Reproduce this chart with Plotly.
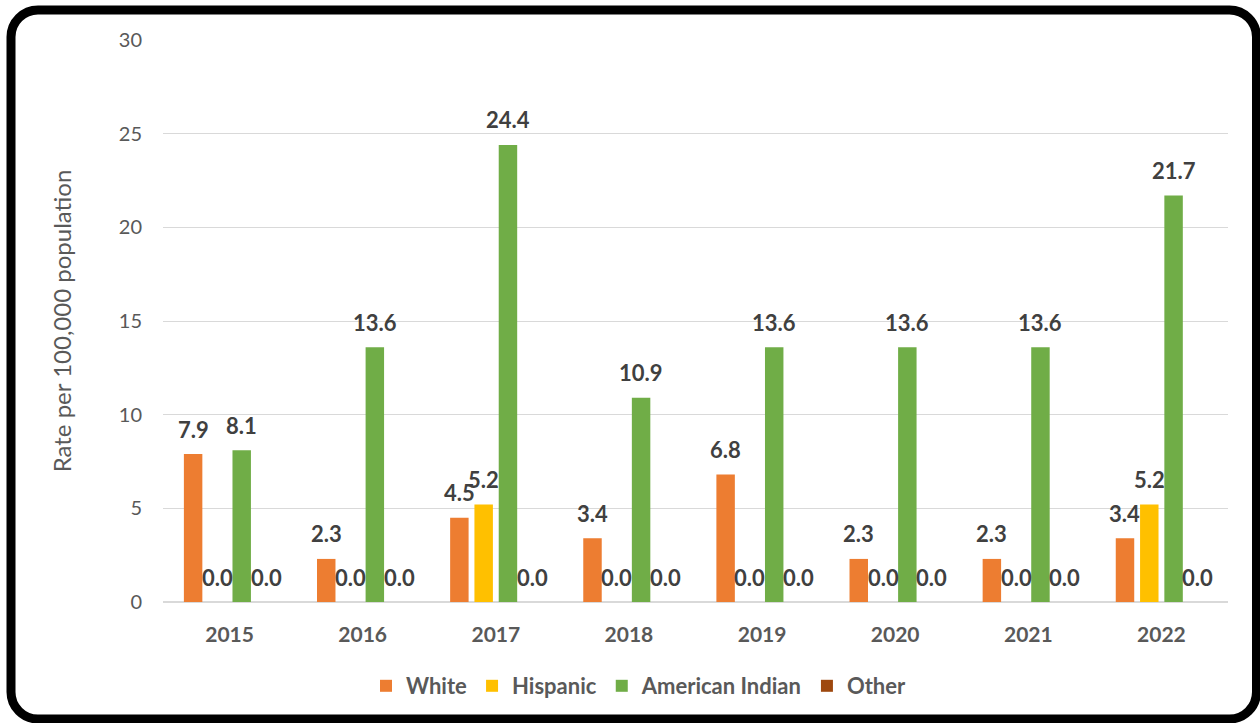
import plotly.graph_objects as go

# Rate per 100,000 population by race, 2015-2022
years = ["2015", "2016", "2017", "2018", "2019", "2020", "2021", "2022"]
white = [7.9, 2.3, 4.5, 3.4, 6.8, 2.3, 2.3, 3.4]
hispanic = [0.0, 0.0, 5.2, 0.0, 0.0, 0.0, 0.0, 5.2]
american_indian = [8.1, 13.6, 24.4, 10.9, 13.6, 13.6, 13.6, 21.7]
other = [0.0, 0.0, 0.0, 0.0, 0.0, 0.0, 0.0, 0.0]

series_names = ["White", "Hispanic", "American Indian", "Other"]
series_values = [white, hispanic, american_indian, other]
series_colors = ["#ED7D31", "#FFC000", "#70AD47", "#9E480E"]

W, H = 1260, 723
ML, MR, MT, MB = 163, 32, 40, 121
PW, PH = W - ML - MR, H - MT - MB
FONT = "Lato"


def px_x(px):
    return (px - ML) / PW


def px_y(py):
    return (H - MB - py) / PH


fig = go.Figure()
for name, vals, col in zip(series_names, series_values, series_colors):
    fig.add_trace(go.Bar(
        name=name, x=years, y=vals,
        marker=dict(color=col, line=dict(width=0)),
        hoverinfo="x+y+name",
    ))

# value labels above each bar (category axis positions are indices)
n_series = len(series_names)
cat_w = PW / len(years)
bar_pitch = cat_w * (1 - 0.27) / n_series
annotations = []
for i, vals in enumerate(series_values):
    for j, v in enumerate(vals):
        annotations.append(dict(
            x=j, y=v, xref="x", yref="y", text=f"<b>{v:.1f}</b>", showarrow=False,
            xshift=(i - (n_series - 1) / 2) * bar_pitch, yshift=25,
            yanchor="middle", xanchor="center",
            font=dict(family=FONT, size=22, color="#404040"),
        ))

# rounded black frame around the chart
x0, x1, y0, y1, r = 11, 1256.5, 10, 719, 27
k = 0.5523 * r


def pt(x, y):
    return f"{px_x(x):.5f},{px_y(y):.5f}"


path = (
    f"M {pt(x0 + r, y0)} L {pt(x1 - r, y0)} "
    f"C {pt(x1 - r + k, y0)} {pt(x1, y0 + r - k)} {pt(x1, y0 + r)} "
    f"L {pt(x1, y1 - r)} "
    f"C {pt(x1, y1 - r + k)} {pt(x1 - r + k, y1)} {pt(x1 - r, y1)} "
    f"L {pt(x0 + r, y1)} "
    f"C {pt(x0 + r - k, y1)} {pt(x0, y1 - r + k)} {pt(x0, y1 - r)} "
    f"L {pt(x0, y0 + r)} "
    f"C {pt(x0, y0 + r - k)} {pt(x0 + r - k, y0)} {pt(x0 + r, y0)} Z"
)

fig.update_layout(
    width=W, height=H,
    margin=dict(l=ML, r=MR, t=MT, b=MB, autoexpand=False),
    paper_bgcolor="white", plot_bgcolor="white",
    barmode="group", bargap=0.27, bargroupgap=0.24,
    font=dict(family=FONT, color="#595959"),
    showlegend=True,
    legend=dict(
        orientation="h", x=px_x(639), xanchor="center", y=px_y(686), yanchor="middle",
        font=dict(family=FONT, size=22, color="#595959", weight="bold"),
        itemwidth=30, traceorder="normal",
    ),
    annotations=annotations,
    shapes=[dict(type="path", xref="paper", yref="paper", path=path,
                 line=dict(color="black", width=9), layer="above")],
    xaxis=dict(
        type="category", categoryorder="array", categoryarray=years,
        range=[-0.5, len(years) - 0.5], autorange=False,
        tickfont=dict(family=FONT, size=21, color="#595959", weight="bold"),
        showline=False, showgrid=False, ticks="", ticklabelstandoff=18,
    ),
    yaxis=dict(
        range=[0, 30], autorange=False, dtick=5, tick0=0,
        showgrid=True, gridcolor="#D9D9D9", gridwidth=1.3,
        zeroline=True, zerolinecolor="#D9D9D9", zerolinewidth=1.5,
        tickfont=dict(family=FONT, size=20, color="#595959"),
        ticklabelstandoff=20,
        title=dict(text="Rate per 100,000 population",
                   font=dict(family=FONT, size=24, color="#595959"), standoff=40),
    ),
)

fig.write_html("out.html")
